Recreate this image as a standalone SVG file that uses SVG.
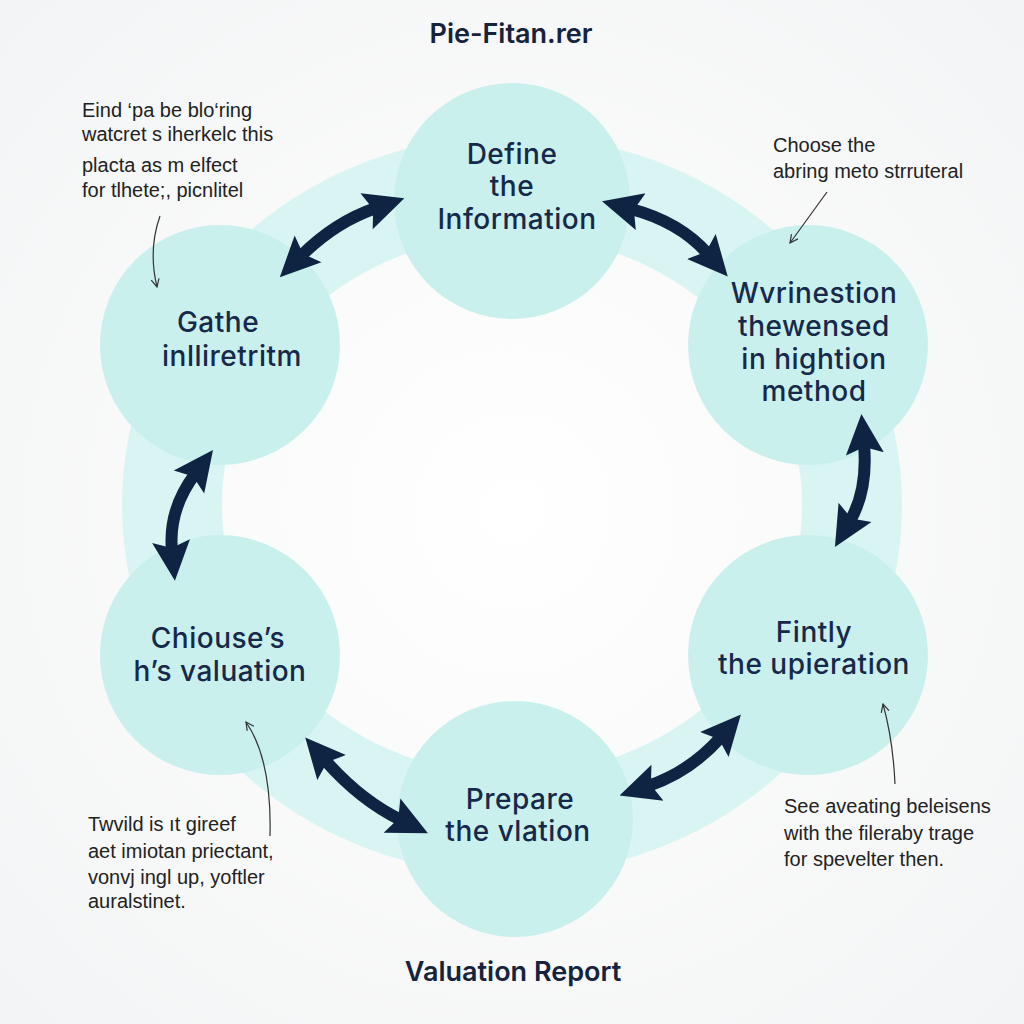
<svg xmlns="http://www.w3.org/2000/svg" width="1024" height="1024" viewBox="0 0 1024 1024">
<defs>
<radialGradient id="bg" cx="50%" cy="50%" r="70%">
<stop offset="0" stop-color="#ffffff"/>
<stop offset="1" stop-color="#f3f4f5"/>
</radialGradient>
<marker id="head" viewBox="0 0 40 40" refX="10" refY="20" markerWidth="40" markerHeight="40" markerUnits="userSpaceOnUse" orient="auto-start-reverse">
<path d="M0,1 L40,20 L0,39 L7,20 z" fill="#0f2442"/>
</marker>
<marker id="thin" viewBox="0 0 10 10" refX="9" refY="5" markerWidth="10" markerHeight="10" markerUnits="userSpaceOnUse" orient="auto">
<path d="M1,1 L9,5 L1,9" fill="none" stroke="#333" stroke-width="1.2"/>
</marker>
</defs>
<style>
.node{fill:#caf0ee}
.band{fill:none;stroke:#d9f5f3;stroke-width:100}
.lbl{font-family:"Inter","Liberation Sans",sans-serif;font-size:28px;font-weight:500;fill:#16294a;text-anchor:middle;letter-spacing:0.5px}
.note{font-family:"Liberation Sans Narrow","Liberation Sans",sans-serif;font-size:20px;fill:#222}
.title{font-family:"Inter","Liberation Sans",sans-serif;font-size:27px;font-weight:600;fill:#16233d;text-anchor:middle}
.conn{fill:none;stroke:#0f2442;stroke-width:12;marker-start:url(#head);marker-end:url(#head)}
.pt{fill:none;stroke:#333;stroke-width:1.2;marker-end:url(#thin)}
</style>
<rect width="1024" height="1024" fill="url(#bg)"/>
<ellipse class="band" cx="512" cy="505" rx="340" ry="320"/>

<g id="n-define"><circle class="node" cx="512" cy="201" r="118"/>
<text class="lbl" x="512" y="164">Define</text><text class="lbl" x="512" y="196">the</text><text class="lbl" x="517" y="229">Information</text></g>
<g id="n-gathe"><circle class="node" cx="220" cy="345" r="120"/>
<text class="lbl" x="218" y="332">Gathe</text><text class="lbl" x="232" y="366">inlliretritm</text></g>
<g id="n-wvrinestion"><circle class="node" cx="808" cy="345" r="120"/>
<text class="lbl" x="814" y="303">Wvrinestion</text><text class="lbl" x="814" y="336">thewensed</text><text class="lbl" x="814" y="369">in hightion</text><text class="lbl" x="814" y="401">method</text></g>
<g id="n-chiouse"><circle class="node" cx="220" cy="655" r="120"/>
<text class="lbl" x="218" y="648">Chiouse’s</text><text class="lbl" x="220" y="681">h’s valuation</text></g>
<g id="n-fintly"><circle class="node" cx="808" cy="655" r="120"/>
<text class="lbl" x="814" y="642">Fintly</text><text class="lbl" x="814" y="674">the upieration</text></g>
<g id="n-prepare"><circle class="node" cx="515" cy="819" r="118"/>
<text class="lbl" x="520" y="809">Prepare</text><text class="lbl" x="518" y="841">the vlation</text></g>

<g id="connectors">
<path class="conn" d="M301,256 Q335,222 376,208"/>
<path class="conn" d="M631,209 Q680,222 708,254"/>
<path class="conn" d="M195,474 Q168,510 172,551"/>
<path class="conn" d="M864,444 Q868,490 850,521"/>
<path class="conn" d="M325,760 Q360,800 401,820"/>
<path class="conn" d="M648,786 Q690,772 721,737"/>
<path class="pt" d="M160,216 Q148,250 157,287"/>
<path class="pt" d="M827,192 L790,243"/>
<path class="pt" d="M270,836 Q272,760 246,722"/>
<path class="pt" d="M895,784 Q893,740 883,704"/>
</g>

<text class="title" x="511" y="43">Pie-Fitan.rer</text>
<text class="title" x="513" y="981">Valuation Report</text>

<g id="notes">
<text class="note" x="82" y="117">Eind ‘pa be blo‘ring</text>
<text class="note" x="82" y="141">watcret s iherkelc this</text>
<text class="note" x="82" y="172">placta as m elfect</text>
<text class="note" x="82" y="197">for tlhete;, picnlitel</text>
<text class="note" x="773" y="152">Choose the</text>
<text class="note" x="773" y="178">abring meto strruteral</text>
<text class="note" x="88" y="831">Twvild is ıt gireef</text>
<text class="note" x="88" y="858">aet imiotan priectant,</text>
<text class="note" x="88" y="884">vonvj ingl up, yoftler</text>
<text class="note" x="88" y="908">auralstinet.</text>
<text class="note" x="784" y="813">See aveating beleisens</text>
<text class="note" x="784" y="840">with the fileraby trage</text>
<text class="note" x="784" y="866">for spevelter then.</text>
</g>
</svg>
